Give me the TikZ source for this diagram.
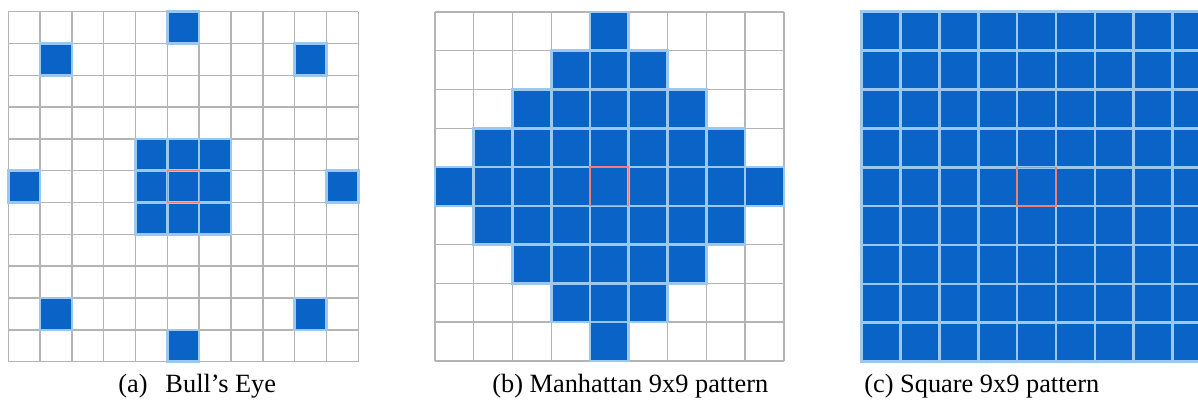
\documentclass[tikz,border=0pt]{standalone}
\usepackage{fontspec}
\setmainfont{Liberation Serif}
\definecolor{patblue}{HTML}{0A64C8}
\definecolor{gapblue}{HTML}{9CC8F0}
\definecolor{gridgray}{HTML}{B4B4B4}
\definecolor{centred}{HTML}{F08070}

\begin{document}
\begin{tikzpicture}[x=0.02cm, y=-0.02cm, font=\fontsize{15}{18}\selectfont,
      gridln/.style={draw=gridgray, line width=0.8pt},
      bluecell/.style={fill=patblue, draw=gapblue, line width=1.5pt},
      ctrcell/.style={draw=centred, line width=0.7pt},
      caption/.style={anchor=base west, inner sep=0pt}]
    \useasboundingbox (0,0) rectangle (1198,404);
    \clip (0,0) rectangle (1198,404);
    % (a) bull's eye, 11x11
    \begin{scope}[xshift=0.166cm, yshift=-0.234cm, x=0.6364cm, y=-0.6364cm]
      \foreach \i in {0,...,11} {
        \draw[gridln] (\i,0) -- (\i,11);
        \draw[gridln] (0,\i) -- (11,\i);
      }
      \foreach \c/\r in {5/0,1/1,9/1,4/4,5/4,6/4,0/5,4/5,5/5,6/5,10/5,
                         4/6,5/6,6/6,1/9,9/9,5/10}
        \draw[bluecell] (\c,\r) rectangle ++(1,1);
      \draw[ctrcell] (5,5) rectangle (6,6);
    \end{scope}
    % (b) manhattan, 9x9
    \begin{scope}[xshift=8.7cm, yshift=-0.24cm, x=0.7756cm, y=-0.7756cm]
      \foreach \i in {0,...,9} {
        \draw[gridln] (\i,0) -- (\i,9);
        \draw[gridln] (0,\i) -- (9,\i);
      }
      \foreach \r in {0,...,8}
        \foreach \c in {0,...,8} {
          \pgfmathtruncatemacro\dist{abs(\r-4)+abs(\c-4)}
          \ifnum\dist<5 \draw[bluecell] (\c,\r) rectangle ++(1,1); \fi
        }
      \draw[ctrcell] (4,4) rectangle (5,5);
    \end{scope}
    % (c) square, 9x9
    \begin{scope}[xshift=17.234cm, yshift=-0.234cm, x=0.7778cm, y=-0.7778cm]
      \foreach \r in {0,...,8}
        \foreach \c in {0,...,8}
          \draw[bluecell] (\c,\r) rectangle ++(1,1);
      \draw[ctrcell] (4,4) rectangle (5,5);
    \end{scope}
    \node[caption] (capa) at (118,393) {(a)\hspace{0.68em}Bull’s Eye};
    \node[caption] (capb) at (492,393) {(b) Manhattan 9x9 pattern};
    \node[caption] (capc) at (864,393) {(c) Square 9x9 pattern};
  \end{tikzpicture}
\end{document}
